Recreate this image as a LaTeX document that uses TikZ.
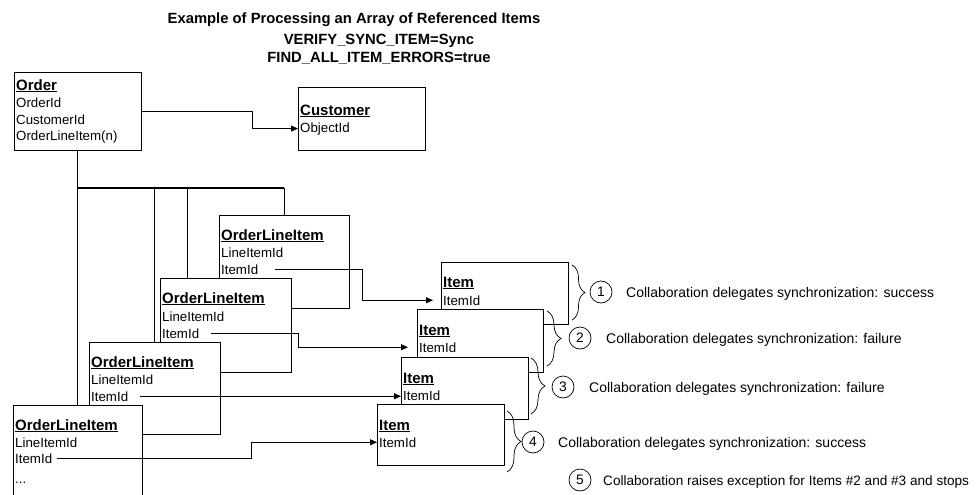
\documentclass[tikz,border=0pt]{standalone}
\usepackage{fontspec}
\setmainfont{Liberation Sans}
\usetikzlibrary{arrows.meta,decorations.pathreplacing}
\begin{document}
\begin{tikzpicture}[x=1pt,y=-1pt,
  box/.style={draw, fill=white, line width=0.8pt, anchor=north west, inner sep=0pt, outer sep=0pt},
  txt/.style={anchor=base west, inner sep=0pt, font=\fontsize{13.3}{16}\selectfont},
  hd/.style={anchor=base west, inner sep=0pt, font=\fontsize{15}{16}\selectfont\bfseries},
  ttl/.style={anchor=base, inner sep=0pt, font=\fontsize{14.8}{18}\selectfont\bfseries},
  lbl/.style={anchor=base west, inner sep=0pt, font=\fontsize{14}{16}\selectfont},
  num/.style={draw, circle, minimum size=22pt, inner sep=0pt, line width=0.7pt, font=\fontsize{13.8}{16}\selectfont},
  conn/.style={line width=0.8pt},
  trunk/.style={line width=1.5pt},
  arr/.style={line width=0.8pt, -{Triangle[length=7pt,width=6pt]}},
  brc/.style={decorate, decoration={brace, amplitude=13pt}, line width=0.7pt}]
\useasboundingbox (0,0) rectangle (977,495);
\clip (0,0) rectangle (977,495);

% title
\node[ttl] (t1) at (354,24) {Example of Processing an Array of Referenced Items};
\node[ttl] (t2) at (379,45) {VERIFY\_SYNC\_ITEM=Sync};
\node[ttl] (t3) at (379,63) {FIND\_ALL\_ITEM\_ERRORS=true};

% junction coordinates of the tree
\coordinate (j0) at (77.5,188);
\coordinate (j1) at (154.5,188);
\coordinate (j2) at (187,188);
\coordinate (j3) at (284,188);

% Order and Customer
\node[box, minimum width=127pt, minimum height=78pt] (order) at (14,72) {};
\node[hd]  (ordh) at (16,90)  {\underline{Order}};
\node[txt] (ord1) at (16,107) {OrderId};
\node[txt] (ord2) at (16,124) {CustomerId};
\node[txt] (ord3) at (16,140) {OrderLineItem(n)};

\node[box, minimum width=127pt, minimum height=63pt] (cust) at (298,87) {};
\node[hd]  (custh) at (300,115) {\underline{Customer}};
\node[txt] (custid) at (300,132) {ObjectId};

\draw[arr] (order.east) -- ++(111,0) |- (cust.west |- custid.west);

% OrderLineItems
\node[box, minimum width=130pt, minimum height=93pt] (oli1) at (219,215) {};
\node[hd]  (o1h) at (221,240) {\underline{OrderLineItem}};
\node[txt] (o1l) at (221,257) {LineItemId};
\node[txt] (o1id) at (221,274) {ItemId};

\node[box, minimum width=131pt, minimum height=94pt] (oli2) at (160,278) {};
\node[hd]  (o2h) at (162,303) {\underline{OrderLineItem}};
\node[txt] (o2l) at (162,321) {LineItemId};
\node[txt] (o2id) at (162,338) {ItemId};

\node[box, minimum width=131pt, minimum height=92pt] (oli3) at (89,342) {};
\node[hd]  (o3h) at (91,367) {\underline{OrderLineItem}};
\node[txt] (o3l) at (91,384) {LineItemId};
\node[txt] (o3id) at (91,401) {ItemId};

\node[box, minimum width=129pt, minimum height=120pt] (oli4) at (13,405) {};
\node[hd]  (o4h) at (15,430) {\underline{OrderLineItem}};
\node[txt] (o4l) at (15,447) {LineItemId};
\node[txt] (o4id) at (15,463) {ItemId};
\node[txt] (o4d) at (15,483) {...};

% tree
\draw[trunk] (order.south) -- (j0) -- (j3);
\draw[conn] (j3) -- (oli1.north);
\draw[conn] (j0) -- (oli4.north);
\draw[conn] (j1) -- (oli3.north);
\draw[conn] (j2) -- (j2 |- oli2.north);

% Items
\node[box, minimum width=127pt, minimum height=62pt] (item1) at (441,262) {};
\node[hd]  (i1h) at (443,287) {\underline{Item}};
\node[txt] (i1id) at (443,305) {ItemId};

\node[box, minimum width=126pt, minimum height=63pt] (item2) at (417,309) {};
\node[hd]  (i2h) at (419,335) {\underline{Item}};
\node[txt] (i2id) at (419,352) {ItemId};

\node[box, minimum width=127pt, minimum height=62pt] (item3) at (401,357) {};
\node[hd]  (i3h) at (403,383) {\underline{Item}};
\node[txt] (i3id) at (403,400) {ItemId};

\node[box, minimum width=127pt, minimum height=61pt] (item4) at (377,404) {};
\node[hd]  (i4h) at (379,430) {\underline{Item}};
\node[txt] (i4id) at (379,447) {ItemId};

% ItemId connectors
\coordinate (a1) at (item1.west |- i1id.west);
\coordinate (a2) at (item2.west |- i2id.west);
\coordinate (a4) at (item4.west |- i4id.west);
\draw[arr, shorten >=8pt] ([xshift=17pt]o1id.east) -| ([xshift=-79pt]a1) -- (a1);
\draw[arr, shorten >=9pt] ([xshift=12pt]o2id.east) -| ([xshift=-119pt]a2) -- (a2);
\draw[arr] ([xshift=12pt]o3id.east) -- (item3.west |- o3id.east);
\draw[arr] ([xshift=5pt]o4id.east) -| ([xshift=-126pt]a4) -- (a4);

% braces
\draw[brc] ([xshift=4pt,yshift=-3pt]item1.north east) -- ([xshift=4pt,yshift=4pt]item1.south east);
\draw[brc, decoration={amplitude=14pt}] ([xshift=4pt,yshift=-2pt]item2.north east) -- ([xshift=4pt,yshift=6pt]item2.south east);
\draw[brc, decoration={amplitude=14pt}] ([xshift=3pt,yshift=-1pt]item3.north east) -- ([xshift=3pt,yshift=5pt]item3.south east);
\draw[brc, decoration={amplitude=14pt}] ([xshift=3pt,yshift=-7pt]item4.north east) -- ([xshift=3pt,yshift=-7pt]item4.south east);

% numbered notes
\node[num] (n1) at (601,292) {1};
\node[lbl] (l1) at (626,297) {Collaboration delegates synchronization: success};
\node[num] (n2) at (580,338) {2};
\node[lbl] (l2) at (606,343) {Collaboration delegates synchronization: failure};
\node[num] (n3) at (563,387) {3};
\node[lbl] (l3) at (589,392) {Collaboration delegates synchronization: failure};
\node[num] (n4) at (533,442) {4};
\node[lbl] (l4) at (558,447) {Collaboration delegates synchronization: success};
\node[num] (n5) at (580,480) {5};
\node[lbl, font=\fontsize{13.6}{16}\selectfont] (l5) at (603,485) {Collaboration raises exception for Items \#2 and \#3 and stops};
\end{tikzpicture}
\end{document}
